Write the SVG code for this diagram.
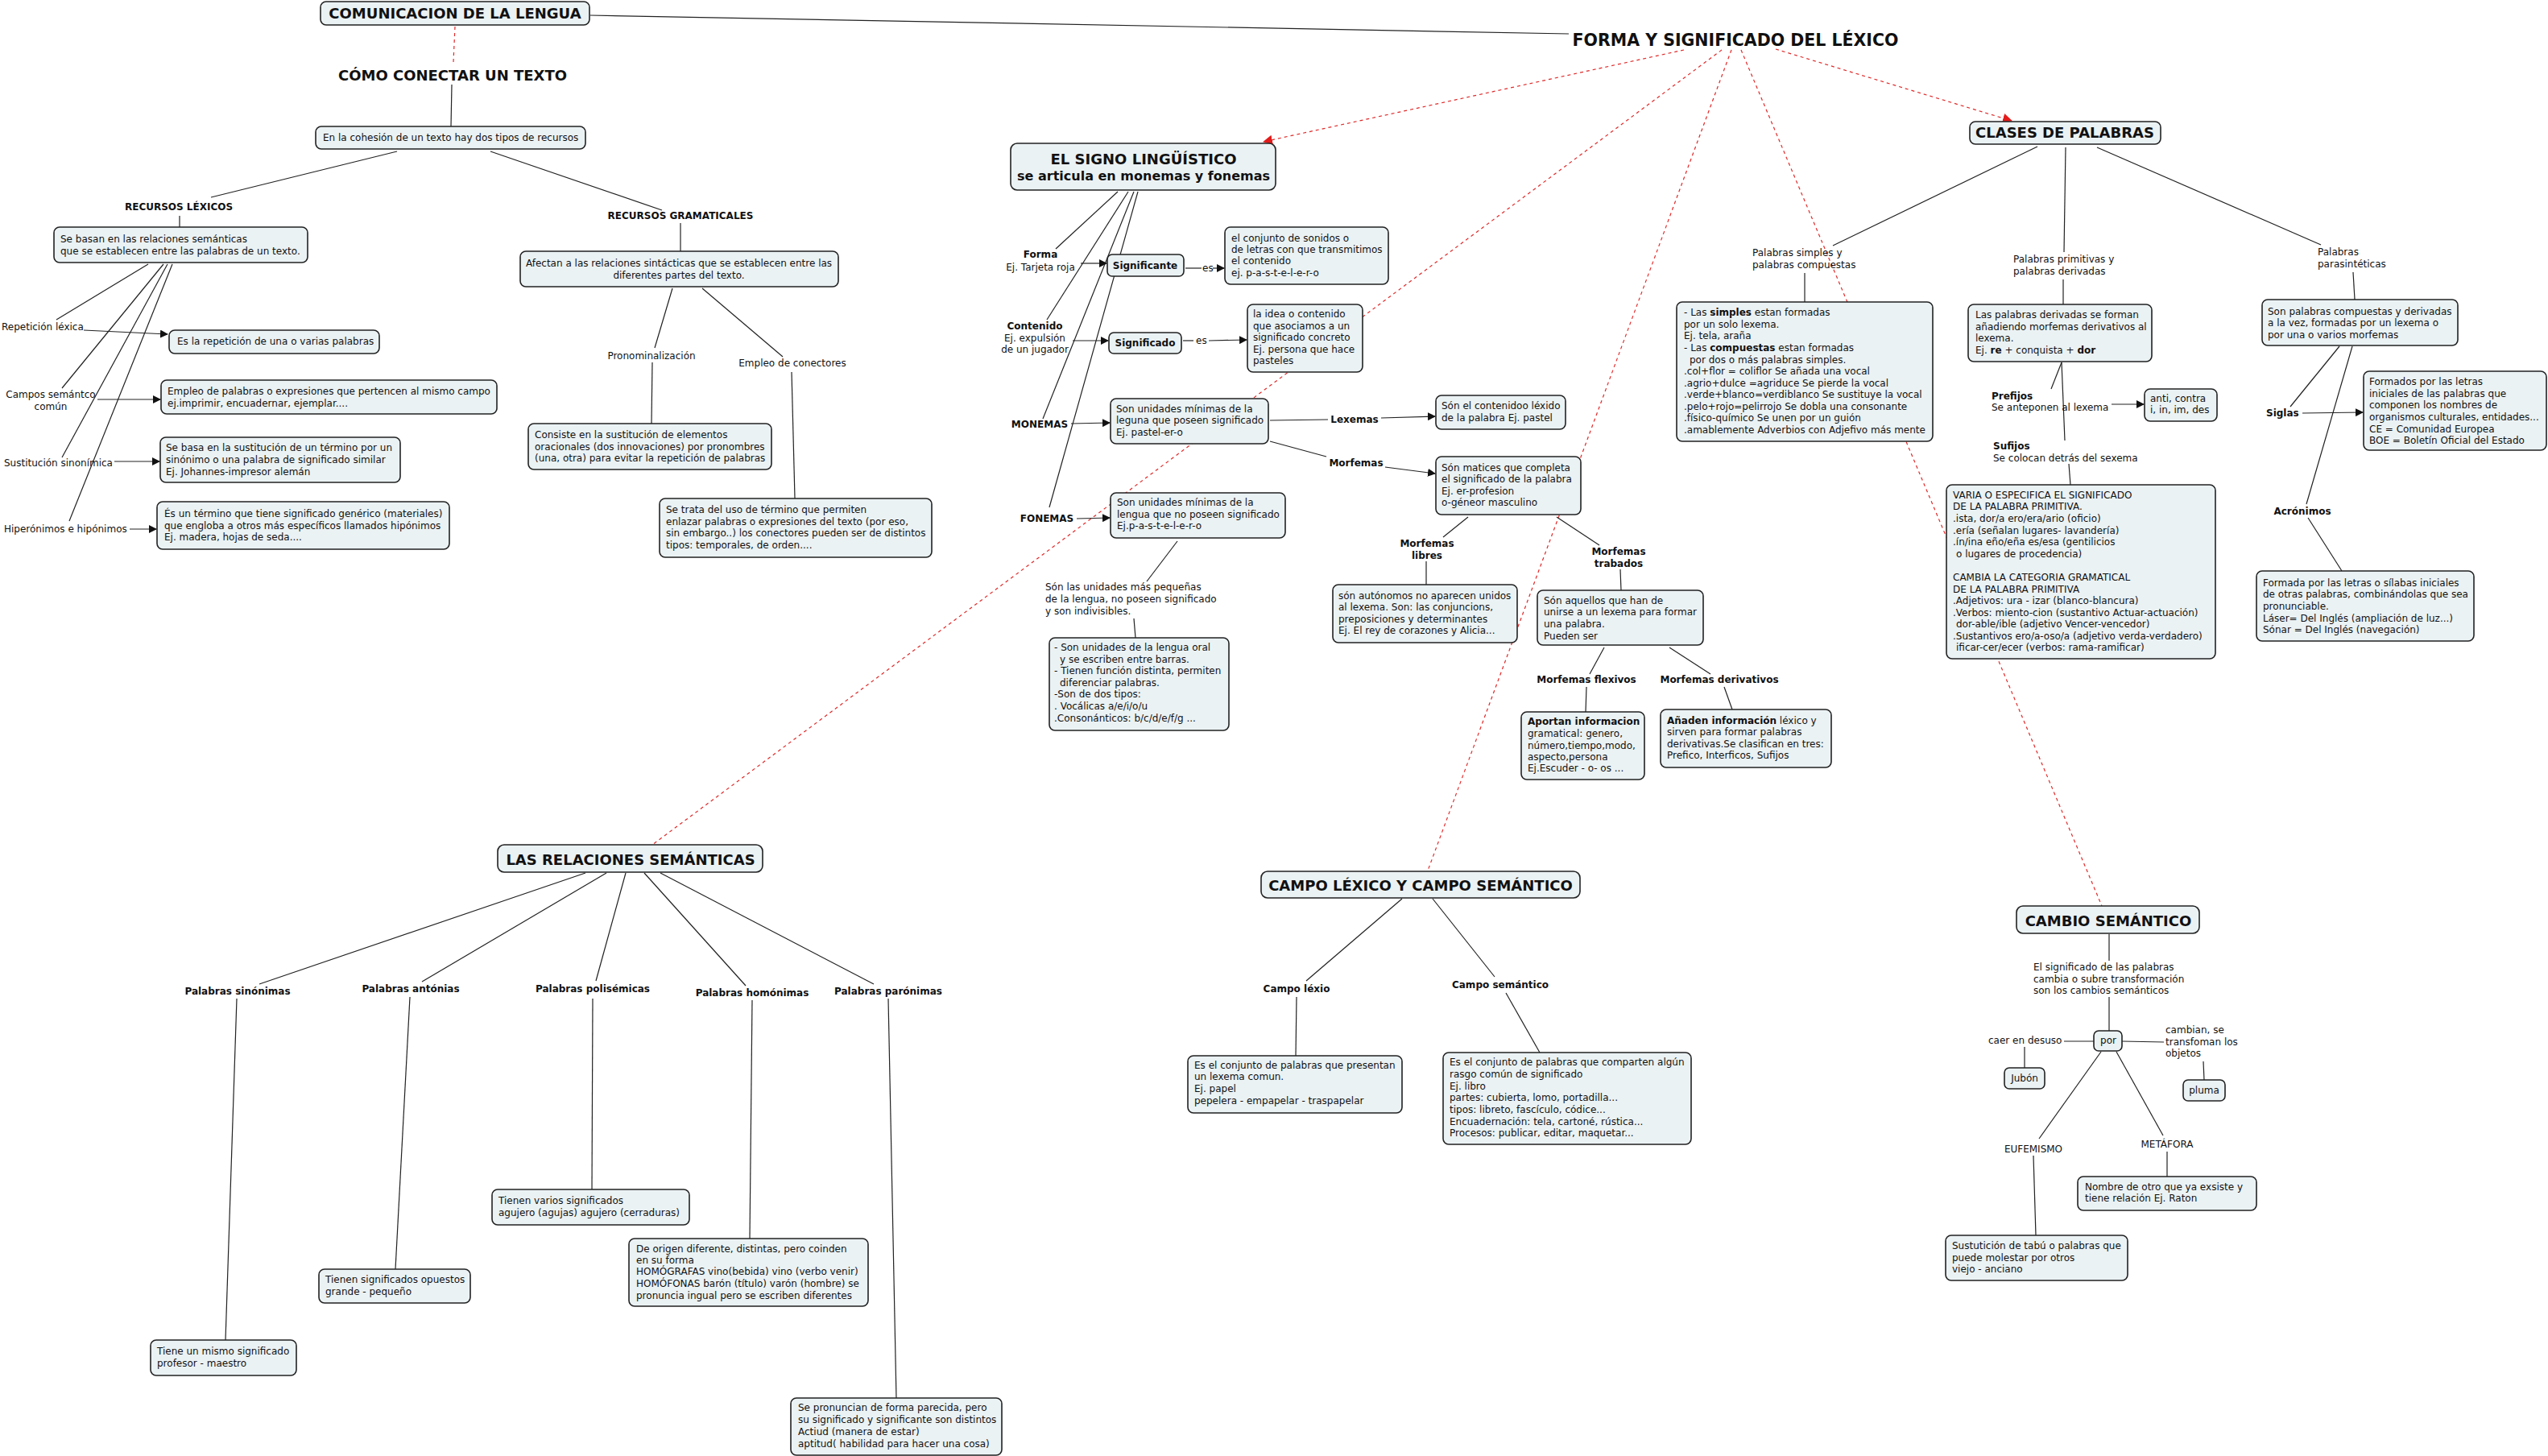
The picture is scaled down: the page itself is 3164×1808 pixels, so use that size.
<svg xmlns="http://www.w3.org/2000/svg" width="3164" height="1808" viewBox="0 0 3164 1808">
<style>
text{font-family:"DejaVu Sans",Verdana,sans-serif;font-size:12px;fill:#111}
.b{font-weight:bold}
.h{font-size:18px;font-weight:bold}
.m{text-anchor:middle}
.box{fill:#ebf2f4;stroke:#222;stroke-width:1.6}
.ln{stroke:#222;stroke-width:1.2;fill:none}
.rd{stroke:#e02a2a;stroke-width:1.2;stroke-dasharray:4 4;fill:none}
</style>
<defs>
<marker id="ar" markerWidth="10" markerHeight="10" refX="9" refY="5" orient="auto" markerUnits="userSpaceOnUse"><path d="M0,0 L10,5 L0,10 z" fill="#111"/></marker>
<marker id="arr" markerWidth="12" markerHeight="12" refX="11" refY="6" orient="auto" markerUnits="userSpaceOnUse"><path d="M0,0 L12,6 L0,12 z" fill="#e31b1b"/></marker>
</defs>
<rect width="3164" height="1808" fill="#fff"/>

<g id="connectors">
<line class="rd" x1="565" y1="33" x2="563" y2="77"/>
<line class="rd" x1="2091" y1="62" x2="1569" y2="176" marker-end="url(#arr)"/>
<line class="rd" x1="2138" y1="62" x2="810" y2="1049"/>
<line class="rd" x1="2150" y1="62" x2="1773" y2="1081"/>
<line class="rd" x1="2162" y1="62" x2="2610" y2="1125"/>
<line class="rd" x1="2205" y1="61" x2="2498" y2="150" marker-end="url(#arr)"/>
<line class="ln" x1="733" y1="19" x2="1948" y2="42"/>
<line class="ln" x1="561" y1="105" x2="560" y2="157"/>
<line class="ln" x1="493" y1="188" x2="262" y2="245"/>
<line class="ln" x1="609" y1="188" x2="822" y2="261"/>
<line class="ln" x1="223" y1="268" x2="223" y2="282"/>
<line class="ln" x1="845" y1="277" x2="845" y2="312"/>
<line class="ln" x1="184" y1="328" x2="70" y2="397"/>
<line class="ln" x1="203" y1="328" x2="77" y2="482"/>
<line class="ln" x1="208" y1="328" x2="77" y2="568"/>
<line class="ln" x1="214" y1="328" x2="86" y2="647"/>
<line class="ln" x1="104" y1="410" x2="208" y2="415" marker-end="url(#ar)"/>
<line class="ln" x1="121" y1="496" x2="199" y2="496" marker-end="url(#ar)"/>
<line class="ln" x1="142" y1="573" x2="198" y2="573" marker-end="url(#ar)"/>
<line class="ln" x1="161" y1="657" x2="194" y2="657" marker-end="url(#ar)"/>
<line class="ln" x1="835" y1="358" x2="813" y2="432"/>
<line class="ln" x1="872" y1="358" x2="972" y2="443"/>
<line class="ln" x1="810" y1="450" x2="809" y2="526"/>
<line class="ln" x1="983" y1="462" x2="987" y2="619"/>
<line class="ln" x1="1388" y1="238" x2="1311" y2="309"/>
<line class="ln" x1="1401" y1="238" x2="1300" y2="397"/>
<line class="ln" x1="1408" y1="238" x2="1295" y2="520"/>
<line class="ln" x1="1413" y1="238" x2="1303" y2="630"/>
<line class="ln" x1="1342" y1="327" x2="1374" y2="327" marker-end="url(#ar)"/>
<line class="ln" x1="1332" y1="423" x2="1376" y2="423" marker-end="url(#ar)"/>
<line class="ln" x1="1330" y1="526" x2="1378" y2="525" marker-end="url(#ar)"/>
<line class="ln" x1="1337" y1="644" x2="1378" y2="643" marker-end="url(#ar)"/>
<line class="ln" x1="1472" y1="333" x2="1492" y2="333"/>
<line class="ln" x1="1506" y1="333" x2="1520" y2="333" marker-end="url(#ar)"/>
<line class="ln" x1="1469" y1="423" x2="1482" y2="423"/>
<line class="ln" x1="1501" y1="423" x2="1548" y2="422" marker-end="url(#ar)"/>
<line class="ln" x1="1577" y1="522" x2="1649" y2="521"/>
<line class="ln" x1="1715" y1="519" x2="1782" y2="517" marker-end="url(#ar)"/>
<line class="ln" x1="1577" y1="548" x2="1647" y2="567"/>
<line class="ln" x1="1720" y1="580" x2="1782" y2="588" marker-end="url(#ar)"/>
<line class="ln" x1="1462" y1="672" x2="1424" y2="722"/>
<line class="ln" x1="1408" y1="768" x2="1410" y2="792"/>
<line class="ln" x1="1823" y1="642" x2="1792" y2="667"/>
<line class="ln" x1="1771" y1="697" x2="1771" y2="726"/>
<line class="ln" x1="1933" y1="642" x2="1986" y2="677"/>
<line class="ln" x1="2012" y1="707" x2="2013" y2="733"/>
<line class="ln" x1="1992" y1="804" x2="1974" y2="837"/>
<line class="ln" x1="2073" y1="804" x2="2124" y2="837"/>
<line class="ln" x1="1970" y1="853" x2="1969" y2="884"/>
<line class="ln" x1="2141" y1="853" x2="2151" y2="881"/>
<line class="ln" x1="2530" y1="182" x2="2276" y2="305"/>
<line class="ln" x1="2241" y1="339" x2="2241" y2="375"/>
<line class="ln" x1="2565" y1="183" x2="2563" y2="313"/>
<line class="ln" x1="2562" y1="347" x2="2562" y2="378"/>
<line class="ln" x1="2604" y1="183" x2="2882" y2="304"/>
<line class="ln" x1="2922" y1="338" x2="2924" y2="372"/>
<line class="ln" x1="2560" y1="450" x2="2547" y2="483"/>
<line class="ln" x1="2560" y1="450" x2="2564" y2="547"/>
<line class="ln" x1="2622" y1="502" x2="2662" y2="502" marker-end="url(#ar)"/>
<line class="ln" x1="2569" y1="576" x2="2571" y2="602"/>
<line class="ln" x1="2905" y1="430" x2="2844" y2="505"/>
<line class="ln" x1="2921" y1="430" x2="2864" y2="626"/>
<line class="ln" x1="2859" y1="513" x2="2934" y2="512" marker-end="url(#ar)"/>
<line class="ln" x1="2866" y1="643" x2="2908" y2="709"/>
<line class="ln" x1="2619" y1="1160" x2="2619" y2="1193"/>
<line class="ln" x1="2619" y1="1238" x2="2619" y2="1280"/>
<line class="ln" x1="2563" y1="1293" x2="2600" y2="1293"/>
<line class="ln" x1="2514" y1="1300" x2="2514" y2="1326"/>
<line class="ln" x1="2635" y1="1293" x2="2687" y2="1294"/>
<line class="ln" x1="2736" y1="1318" x2="2737" y2="1341"/>
<line class="ln" x1="2609" y1="1306" x2="2532" y2="1414"/>
<line class="ln" x1="2525" y1="1435" x2="2528" y2="1534"/>
<line class="ln" x1="2628" y1="1306" x2="2686" y2="1410"/>
<line class="ln" x1="2691" y1="1430" x2="2691" y2="1461"/>
<line class="ln" x1="1741" y1="1116" x2="1622" y2="1218"/>
<line class="ln" x1="1610" y1="1238" x2="1609" y2="1311"/>
<line class="ln" x1="1779" y1="1116" x2="1856" y2="1213"/>
<line class="ln" x1="1870" y1="1233" x2="1912" y2="1307"/>
<line class="ln" x1="727" y1="1084" x2="322" y2="1222"/>
<line class="ln" x1="753" y1="1084" x2="524" y2="1219"/>
<line class="ln" x1="777" y1="1084" x2="740" y2="1218"/>
<line class="ln" x1="800" y1="1084" x2="926" y2="1224"/>
<line class="ln" x1="820" y1="1084" x2="1085" y2="1222"/>
<line class="ln" x1="294" y1="1240" x2="280" y2="1664"/>
<line class="ln" x1="509" y1="1238" x2="491" y2="1576"/>
<line class="ln" x1="736" y1="1240" x2="735" y2="1477"/>
<line class="ln" x1="934" y1="1242" x2="931" y2="1538"/>
<line class="ln" x1="1103" y1="1240" x2="1113" y2="1736"/>
</g>

<g id="n-comunicacion"><rect class="box" x="398" y="2" width="334" height="29" rx="7"/><text class="h m" x="565" y="23">COMUNICACION DE LA LENGUA</text></g>
<g id="n-forma"><text class="m b" style="font-size:20.5px" x="2155" y="57">FORMA Y SIGNIFICADO DEL LÉXICO</text></g>
<g id="n-como"><text class="h m" x="562" y="100">CÓMO CONECTAR UN TEXTO</text></g>
<g id="n-cohesion"><rect class="box" x="392" y="157" width="335" height="28" rx="7"/><text x="401" y="175">En la cohesión de un texto hay dos tipos de recursos</text></g>
<g id="n-reclex"><text class="b m" x="222" y="261">RECURSOS LÉXICOS</text></g>
<g id="n-recgram"><text class="b m" x="845" y="272">RECURSOS GRAMATICALES</text></g>
<g id="n-sebasan"><rect class="box" x="67" y="282" width="315" height="44" rx="7"/><text x="75" y="301">Se basan en las relaciones semánticas</text><text x="75" y="316">que se establecen entre las palabras de un texto.</text></g>
<g id="n-afectan"><rect class="box" x="646" y="312" width="395" height="44" rx="7"/><text class="m" x="843" y="331">Afectan a las relaciones sintácticas que se establecen entre las</text><text class="m" x="843" y="346">diferentes partes del texto.</text></g>
<g id="n-pronom"><text class="m" x="809" y="446">Pronominalización</text></g>
<g id="n-empleo"><text class="m" x="984" y="455">Empleo de conectores</text></g>
<g id="n-consiste"><rect class="box" x="656" y="526" width="302" height="57" rx="7"/><text x="664" y="544">Consiste en la sustitución de elementos</text><text x="664" y="559">oracionales (dos innovaciones) por pronombres</text><text x="664" y="573">(una, otra) para evitar la repetición de palabras</text></g>
<g id="n-setrata"><rect class="box" x="819" y="619" width="338" height="73" rx="7"/><text x="827" y="637">Se trata del uso de término que permiten</text><text x="827" y="652">enlazar palabras o expresiones del texto (por eso,</text><text x="827" y="666">sin embargo..) los conectores pueden ser de distintos</text><text x="827" y="681">tipos: temporales, de orden....</text></g>
<g id="n-repeticion-l"><text x="2" y="410">Repetición léxica</text></g>
<g id="n-repeticion"><rect class="box" x="210" y="410" width="261" height="29" rx="7"/><text x="220" y="428">Es la repetición de una o varias palabras</text></g>
<g id="n-campos-l"><text class="m" x="63" y="494">Campos semántco</text><text class="m" x="63" y="509">común</text></g>
<g id="n-campos"><rect class="box" x="200" y="472" width="417" height="42" rx="7"/><text x="208" y="490">Empleo de palabras o expresiones que pertencen al mismo campo</text><text x="208" y="505">ej.imprimir, encuadernar, ejemplar....</text></g>
<g id="n-sustitucion-l"><text x="5" y="579">Sustitución sinonímica</text></g>
<g id="n-sustitucion"><rect class="box" x="199" y="543" width="298" height="56" rx="7"/><text x="206" y="560">Se basa en la sustitución de un término por un</text><text x="206" y="575">sinónimo o una palabra de significado similar</text><text x="206" y="590">Ej. Johannes-impresor alemán</text></g>
<g id="n-hiper-l"><text x="5" y="661">Hiperónimos e hipónimos</text></g>
<g id="n-hiper"><rect class="box" x="195" y="623" width="363" height="59" rx="7"/><text x="204" y="642">És un término que tiene significado genérico (materiales)</text><text x="204" y="657">que engloba a otros más específicos llamados hipónimos</text><text x="204" y="671">Ej. madera, hojas de seda....</text></g>

<g id="n-signo"><rect class="box" x="1255" y="178" width="329" height="58" rx="8"/><text class="h m" x="1420" y="204">EL SIGNO LINGÜÍSTICO</text><text class="b m" style="font-size:16px" x="1420" y="224">se articula en monemas y fonemas</text></g>
<g id="n-forma-l"><text class="b m" x="1292" y="320">Forma</text><text class="m" x="1292" y="336">Ej. Tarjeta roja</text></g>
<g id="n-significante"><rect class="box" x="1375" y="316" width="95" height="27" rx="6"/><text class="b m" x="1422" y="334">Significante</text></g>
<g id="n-es1"><text x="1493" y="337">es</text></g>
<g id="n-conjunto"><rect class="box" x="1521" y="282" width="203" height="71" rx="7"/><text x="1529" y="300">el conjunto de sonidos o</text><text x="1529" y="314">de letras con que transmitimos</text><text x="1529" y="328">el contenido</text><text x="1529" y="343">ej. p-a-s-t-e-l-e-r-o</text></g>
<g id="n-contenido-l"><text class="b m" x="1285" y="409">Contenido</text><text class="m" x="1285" y="424">Ej. expulsión</text><text class="m" x="1285" y="438">de un jugador</text></g>
<g id="n-significado"><rect class="box" x="1377" y="413" width="90" height="26" rx="6"/><text class="b m" x="1422" y="430">Significado</text></g>
<g id="n-es2"><text x="1485" y="427">es</text></g>
<g id="n-idea"><rect class="box" x="1549" y="378" width="143" height="84" rx="7"/><text x="1556" y="394">la idea o contenido</text><text x="1556" y="409">que asociamos a un</text><text x="1556" y="423">significado concreto</text><text x="1556" y="438">Ej. persona que hace</text><text x="1556" y="452">pasteles</text></g>
<g id="n-monemas-l"><text class="b m" x="1291" y="531">MONEMAS</text></g>
<g id="n-monemas"><rect class="box" x="1379" y="495" width="196" height="56" rx="7"/><text x="1386" y="512">Son unidades mínimas de la</text><text x="1386" y="526">leguna que poseen significado</text><text x="1386" y="541">Ej. pastel-er-o</text></g>
<g id="n-lexemas-l"><text class="b m" x="1682" y="525">Lexemas</text></g>
<g id="n-lexemas"><rect class="box" x="1783" y="491" width="161" height="42" rx="7"/><text x="1790" y="508">Són el contenidoo léxido</text><text x="1790" y="523">de la palabra Ej. pastel</text></g>
<g id="n-morfemas-l"><text class="b m" x="1684" y="579">Morfemas</text></g>
<g id="n-morfemas"><rect class="box" x="1783" y="567" width="180" height="72" rx="7"/><text x="1790" y="585">Són matices que completa</text><text x="1790" y="599">el significado  de la palabra</text><text x="1790" y="614">Ej. er-profesion</text><text x="1790" y="628">o-géneor masculino</text></g>
<g id="n-fonemas-l"><text class="b m" x="1300" y="648">FONEMAS</text></g>
<g id="n-fonemas"><rect class="box" x="1379" y="612" width="217" height="56" rx="7"/><text x="1387" y="628">Son unidades mínimas de la</text><text x="1387" y="643">lengua que no poseen significado</text><text x="1387" y="657">Ej.p-a-s-t-e-l-e-r-o</text></g>
<g id="n-pequenas-l"><text x="1298" y="733">Són las unidades más pequeñas</text><text x="1298" y="748">de la lengua, no poseen significado</text><text x="1298" y="763">y son indivisibles.</text></g>
<g id="n-oral"><rect class="box" x="1303" y="792" width="223" height="115" rx="7"/><text x="1309" y="808">- Son unidades de la lengua oral</text><text x="1316" y="823">y se escriben entre barras.</text><text x="1309" y="837">- Tienen función distinta, permiten</text><text x="1316" y="852">diferenciar palabras.</text><text x="1309" y="866">-Son de dos tipos:</text><text x="1309" y="881">. Vocálicas a/e/i/o/u</text><text x="1309" y="896">.Consonánticos: b/c/d/e/f/g ...</text></g>
<g id="n-libres-l"><text class="b m" x="1772" y="679">Morfemas</text><text class="b m" x="1772" y="694">libres</text></g>
<g id="n-libres"><rect class="box" x="1655" y="726" width="229" height="72" rx="7"/><text x="1662" y="744">són autónomos no aparecen unidos</text><text x="1662" y="758">al lexema. Son: las conjuncions,</text><text x="1662" y="773">preposiciones y determinantes</text><text x="1662" y="787">Ej. El rey de corazones y Alicia...</text></g>
<g id="n-trabados-l"><text class="b m" x="2010" y="689">Morfemas</text><text class="b m" x="2010" y="704">trabados</text></g>
<g id="n-trabados"><rect class="box" x="1909" y="733" width="206" height="68" rx="7"/><text x="1917" y="750">Són aquellos que han de</text><text x="1917" y="764">unirse a un lexema para formar</text><text x="1917" y="779">una palabra.</text><text x="1917" y="794">Pueden ser</text></g>
<g id="n-flexivos-l"><text class="b m" x="1970" y="848">Morfemas flexivos</text></g>
<g id="n-derivativos-l"><text class="b m" x="2135" y="848">Morfemas derivativos</text></g>
<g id="n-flexivos"><rect class="box" x="1889" y="884" width="153" height="84" rx="7"/><text class="b" x="1897" y="900">Aportan informacion</text><text x="1897" y="915">gramatical: genero,</text><text x="1897" y="930">número,tiempo,modo,</text><text x="1897" y="944">aspecto,persona</text><text x="1897" y="958">Ej.Escuder - o- os ...</text></g>
<g id="n-derivativos"><rect class="box" x="2062" y="881" width="212" height="72" rx="7"/><text x="2070" y="899"><tspan class="b">Añaden información</tspan> léxico y</text><text x="2070" y="913">sirven para formar palabras</text><text x="2070" y="928">derivativas.Se clasifican en tres:</text><text x="2070" y="942">Prefico, Interficos, Sufijos</text></g>

<g id="n-clases"><rect class="box" x="2446" y="151" width="237" height="28" rx="7"/><text class="h m" x="2564" y="171">CLASES DE PALABRAS</text></g>
<g id="n-simples-l"><text x="2176" y="318">Palabras simples y</text><text x="2176" y="333">palabras compuestas</text></g>
<g id="n-simples"><rect class="box" x="2082" y="375" width="318" height="173" rx="7"/>
<text x="2091" y="392">- Las <tspan class="b">simples</tspan> estan formadas</text>
<text x="2091" y="407">por un solo lexema.</text>
<text x="2091" y="421">Ej. tela, araña</text>
<text x="2091" y="436">- Las <tspan class="b">compuestas</tspan> estan formadas</text>
<text x="2098" y="451">por dos o más palabras simples.</text>
<text x="2091" y="465">.col+flor = coliflor Se añada una vocal</text>
<text x="2091" y="480">.agrio+dulce =agriduce Se pierde la vocal</text>
<text x="2091" y="494">.verde+blanco=verdiblanco Se sustituye la vocal</text>
<text x="2091" y="509">.pelo+rojo=pelirrojo Se dobla una consonante</text>
<text x="2091" y="523">.físico-químico Se unen por un guión</text>
<text x="2091" y="538">.amablemente Adverbios con Adjefivo más mente</text></g>
<g id="n-primitivas-l"><text x="2500" y="326">Palabras primitivas y</text><text x="2500" y="341">palabras derivadas</text></g>
<g id="n-derivadas"><rect class="box" x="2444" y="378" width="228" height="71" rx="7"/><text x="2453" y="395">Las palabras derivadas se forman</text><text x="2453" y="410">añadiendo morfemas derivativos al</text><text x="2453" y="424">lexema.</text><text x="2453" y="439">Ej. <tspan class="b">re</tspan> + conquista + <tspan class="b">dor</tspan></text></g>
<g id="n-prefijos-l"><text class="b" x="2473" y="496">Prefijos</text><text x="2473" y="510">Se anteponen al lexema</text></g>
<g id="n-prefijos"><rect class="box" x="2663" y="483" width="90" height="40" rx="7"/><text x="2670" y="499">anti, contra</text><text x="2670" y="513">i, in, im, des</text></g>
<g id="n-sufijos-l"><text class="b" x="2475" y="558">Sufijos</text><text x="2475" y="573">Se colocan detrás del sexema</text></g>
<g id="n-varia"><rect class="box" x="2417" y="602" width="334" height="216" rx="7"/>
<text x="2425" y="619">VARIA O ESPECIFICA EL SIGNIFICADO</text>
<text x="2425" y="633">DE LA PALABRA PRIMITIVA.</text>
<text x="2425" y="648">.ista, dor/a ero/era/ario (oficio)</text>
<text x="2425" y="663">.ería (señalan lugares- lavandería)</text>
<text x="2425" y="677">.ín/ina eño/eña es/esa (gentilicios</text>
<text x="2429" y="692">o lugares de procedencia)</text>
<text x="2425" y="721">CAMBIA LA CATEGORIA GRAMATICAL</text>
<text x="2425" y="736">DE LA PALABRA PRIMITIVA</text>
<text x="2425" y="750">.Adjetivos: ura - izar (blanco-blancura)</text>
<text x="2425" y="765">.Verbos: miento-cion (sustantivo Actuar-actuación)</text>
<text x="2429" y="779">dor-able/ible (adjetivo Vencer-vencedor)</text>
<text x="2425" y="794">.Sustantivos ero/a-oso/a (adjetivo verda-verdadero)</text>
<text x="2429" y="808">ificar-cer/ecer (verbos: rama-ramificar)</text></g>
<g id="n-parasint-l"><text x="2878" y="317">Palabras</text><text x="2878" y="332">parasintéticas</text></g>
<g id="n-parasint"><rect class="box" x="2809" y="372" width="243" height="57" rx="7"/><text x="2816" y="391">Son palabras compuestas y derivadas</text><text x="2816" y="405">a la vez, formadas por un lexema o</text><text x="2816" y="420">por una o varios morfemas</text></g>
<g id="n-siglas-l"><text class="b" x="2814" y="517">Siglas</text></g>
<g id="n-siglas"><rect class="box" x="2935" y="461" width="227" height="98" rx="7"/><text x="2942" y="478">Formados por las letras</text><text x="2942" y="493">iniciales de las palabras que</text><text x="2942" y="507">componen los nombres de</text><text x="2942" y="522">organismos culturales, entidades...</text><text x="2942" y="537">CE = Comunidad Europea</text><text x="2942" y="551">BOE = Boletín Oficial del Estado</text></g>
<g id="n-acronimos-l"><text class="b m" x="2859" y="639">Acrónimos</text></g>
<g id="n-acronimos"><rect class="box" x="2802" y="709" width="270" height="87" rx="7"/><text x="2810" y="728">Formada por las letras o sílabas iniciales</text><text x="2810" y="742">de otras palabras, combinándolas que sea</text><text x="2810" y="757">pronunciable.</text><text x="2810" y="772">Láser= Del Inglés (ampliación de luz...)</text><text x="2810" y="786">Sónar = Del Inglés (navegación)</text></g>

<g id="n-cambio"><rect class="box" x="2504" y="1125" width="227" height="34" rx="8"/><text class="h m" x="2618" y="1150">CAMBIO SEMÁNTICO</text></g>
<g id="n-cambio-l"><text x="2525" y="1205">El significado de las palabras</text><text x="2525" y="1220">cambia o subre transformación</text><text x="2525" y="1234">son los cambios semánticos</text></g>
<g id="n-por"><rect class="box" x="2600" y="1280" width="35" height="25" rx="6"/><text class="m" x="2618" y="1296">por</text></g>
<g id="n-desuso-l"><text x="2469" y="1296">caer en desuso</text></g>
<g id="n-jubon"><rect class="box" x="2489" y="1326" width="50" height="26" rx="6"/><text class="m" x="2514" y="1343">Jubón</text></g>
<g id="n-cambian-l"><text x="2689" y="1283">cambian, se</text><text x="2689" y="1298">transfoman los</text><text x="2689" y="1312">objetos</text></g>
<g id="n-pluma"><rect class="box" x="2711" y="1341" width="52" height="26" rx="6"/><text class="m" x="2737" y="1358">pluma</text></g>
<g id="n-eufemismo-l"><text class="m" x="2525" y="1431">EUFEMISMO</text></g>
<g id="n-eufemismo"><rect class="box" x="2416" y="1534" width="226" height="56" rx="7"/><text x="2424" y="1551">Sustutición de tabú o palabras que</text><text x="2424" y="1566">puede molestar por otros</text><text x="2424" y="1580">viejo - anciano</text></g>
<g id="n-metafora-l"><text class="m" x="2691" y="1425">METÁFORA</text></g>
<g id="n-metafora"><rect class="box" x="2580" y="1461" width="222" height="42" rx="7"/><text x="2589" y="1478">Nombre de otro que  ya exsiste y</text><text x="2589" y="1492">tiene relación Ej. Raton</text></g>

<g id="n-campo"><rect class="box" x="1566" y="1082" width="396" height="33" rx="8"/><text class="h m" x="1764" y="1106">CAMPO LÉXICO Y CAMPO SEMÁNTICO</text></g>
<g id="n-campolex-l"><text class="b m" x="1610" y="1232">Campo léxio</text></g>
<g id="n-campolex"><rect class="box" x="1475" y="1311" width="266" height="71" rx="7"/><text x="1483" y="1327">Es el conjunto de palabras que presentan</text><text x="1483" y="1341">un lexema comun.</text><text x="1483" y="1356">Ej. papel</text><text x="1483" y="1371">pepelera - empapelar - traspapelar</text></g>
<g id="n-camposem-l"><text class="b m" x="1863" y="1227">Campo semántico</text></g>
<g id="n-camposem"><rect class="box" x="1792" y="1307" width="308" height="114" rx="7"/><text x="1800" y="1323">Es el conjunto de palabras que comparten algún</text><text x="1800" y="1338">rasgo común de significado</text><text x="1800" y="1353">Ej. libro</text><text x="1800" y="1367">partes: cubierta, lomo, portadilla...</text><text x="1800" y="1382">tipos: libreto, fascículo, códice...</text><text x="1800" y="1397">Encuadernación: tela, cartoné, rústica...</text><text x="1800" y="1411">Procesos: publicar, editar, maquetar...</text></g>

<g id="n-relaciones"><rect class="box" x="618" y="1049" width="329" height="34" rx="8"/><text class="h m" x="783" y="1074">LAS RELACIONES SEMÁNTICAS</text></g>
<g id="n-sinonimas-l"><text class="b m" x="295" y="1235">Palabras sinónimas</text></g>
<g id="n-antonias-l"><text class="b m" x="510" y="1232">Palabras antónias</text></g>
<g id="n-polisemicas-l"><text class="b m" x="736" y="1232">Palabras polisémicas</text></g>
<g id="n-homonimas-l"><text class="b m" x="934" y="1237">Palabras homónimas</text></g>
<g id="n-paronimas-l"><text class="b m" x="1103" y="1235">Palabras parónimas</text></g>
<g id="n-sinonimas"><rect class="box" x="187" y="1664" width="181" height="44" rx="7"/><text x="195" y="1682">Tiene un mismo significado</text><text x="195" y="1697">profesor - maestro</text></g>
<g id="n-antonias"><rect class="box" x="396" y="1576" width="188" height="42" rx="7"/><text x="404" y="1593">Tienen significados opuestos</text><text x="404" y="1608">grande - pequeño</text></g>
<g id="n-polisemicas"><rect class="box" x="611" y="1477" width="245" height="44" rx="7"/><text x="619" y="1495">Tienen varios significados</text><text x="619" y="1510">agujero (agujas) agujero (cerraduras)</text></g>
<g id="n-homonimas"><rect class="box" x="781" y="1538" width="297" height="84" rx="7"/><text x="790" y="1555">De origen diferente, distintas, pero coinden</text><text x="790" y="1569">en su forma</text><text x="790" y="1583">HOMÓGRAFAS vino(bebida) vino (verbo venir)</text><text x="790" y="1598">HOMÓFONAS barón (título) varón (hombre) se</text><text x="790" y="1613">pronuncia ingual pero se escriben diferentes</text></g>
<g id="n-paronimas"><rect class="box" x="982" y="1736" width="262" height="71" rx="7"/><text x="991" y="1752">Se pronuncian de forma parecida, pero</text><text x="991" y="1767">su significado y significante son distintos</text><text x="991" y="1782">Actiud (manera de estar)</text><text x="991" y="1797">aptitud( habilidad para hacer una cosa)</text></g>
</svg>
